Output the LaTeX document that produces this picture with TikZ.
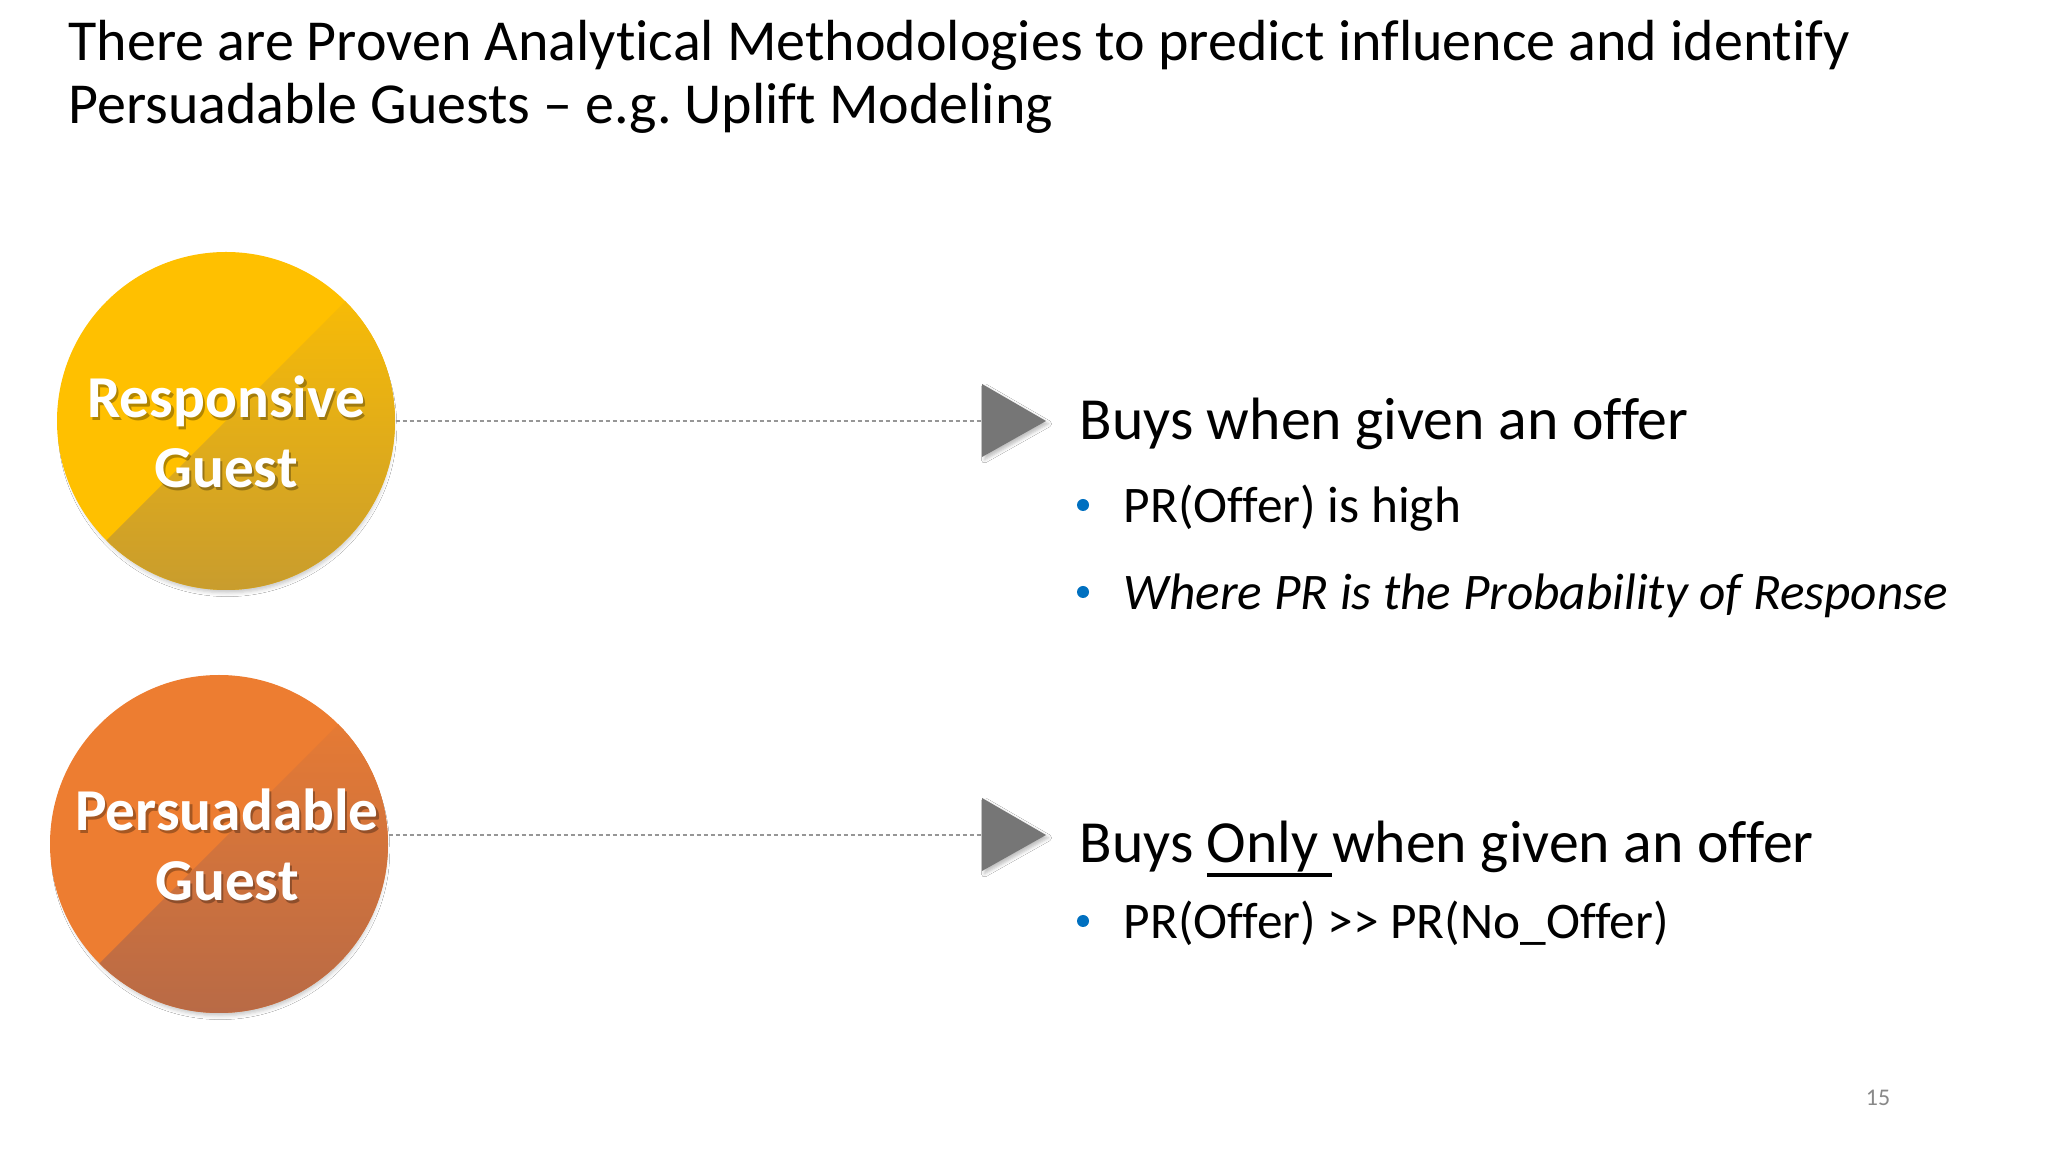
\documentclass[tikz,border=0pt]{standalone}
\usepackage{fontspec}
\setmainfont{Carlito}[Ligatures={TeX,NoCommon}]
\usetikzlibrary{shadows.blur}

\definecolor{gold}{RGB}{255,192,0}
\definecolor{goldbot}{RGB}{200,156,46}
\definecolor{orange}{RGB}{237,125,49}
\definecolor{orangebot}{RGB}{184,106,70}
\definecolor{arrowgray}{RGB}{118,118,118}
\definecolor{linkgray}{RGB}{150,150,150}
\definecolor{bulletblue}{RGB}{0,112,192}
\definecolor{pagegray}{RGB}{137,137,137}

% thick underline, as on the slide
\newcommand{\slideuline}[1]{\setbox0\hbox{#1}\rlap{\rule[-0.23em]{\wd0}{0.055em}}\box0}

\tikzset{
  guest/.style={circle, minimum size=33.8mm, inner sep=0pt, draw=none,
    blur shadow={shadow xshift=0.4pt, shadow yshift=-1.8pt, shadow scale=0.98,
      shadow blur radius=1.1pt, shadow opacity=22}},
  guestlabel/.style={text=white, align=center, inner sep=0pt,
    font=\fontsize{16.9}{19.9}\selectfont\bfseries},
  guestshade/.style={guestlabel, text=black, opacity=0.3},
  link/.style={draw=linkgray, line width=0.2mm, dash pattern=on 0.45mm off 0.25mm},
  pointer/.style={fill=arrowgray,
    blur shadow={shadow xshift=0.7pt, shadow yshift=-0.8pt, shadow blur radius=0.9pt, shadow opacity=25}},
  titletext/.style={anchor=base west, inner sep=0pt, font=\fontsize{16.5}{19}\selectfont},
  heading/.style={anchor=base west, inner sep=0pt, font=\fontsize{17}{20}\selectfont},
  item/.style={anchor=base west, inner sep=0pt, font=\fontsize{14.6}{17}\selectfont},
  dot/.style={circle, fill=bulletblue, minimum size=1.2mm, inner sep=0pt},
}

\begin{document}
\frenchspacing
\begin{tikzpicture}[x=0.1mm, y=-0.1mm]
  \useasboundingbox[fill=white] (0,0) rectangle (2048,1152);

  % Title
  \node[titletext] (title1) at (68,61) {There are Proven Analytical Methodologies to predict influence and identify};
  \node[titletext] (title2) at (68,124) {Persuadable Guests -- e.g. Uplift Modeling};

  % Guest circles
  \node[guest, fill=gold] (resp) at (226,421) {};
  \begin{scope}
    \clip (resp.center) circle (16.9mm);
    \shade[top color=gold, bottom color=goldbot, shift={(resp.center)}]
      (-172,172) -- (172,-172) -- (172,172) -- cycle;
  \end{scope}
  \node[guest, fill=orange] (pers) at (219,844) {};
  \begin{scope}
    \clip (pers.center) circle (16.9mm);
    \shade[top color=orange, bottom color=orangebot, shift={(pers.center)}]
      (-172,172) -- (172,-172) -- (172,172) -- cycle;
  \end{scope}

  % Circle labels
  \node[guestshade] (resplblsh) at (228.5,435) {Responsive\\Guest};
  \node[guestlabel] (resplbl) at (226,432) {Responsive\\Guest};
  \node[guestshade] (perslblsh) at (229.5,848) {Persuadable\\Guest};
  \node[guestlabel] (perslbl) at (227,845) {Persuadable\\Guest};

  % Pointers
  \fill[pointer] (982,384) -- (1046,421) -- (982,457) -- cycle;
  \coordinate (ptr1) at (982,421);
  \fill[pointer] (982,798) -- (1046,835) -- (982,871) -- cycle;
  \coordinate (ptr2) at (982,835);

  % Connect circles to pointers
  \draw[link] (resp) -- (ptr1);
  \draw[link] (pers.east |- ptr2) -- (ptr2);

  % Responsive text
  \node[heading] (head1) at (1079,440) {Buys when given an offer};
  \node[dot] (dot1) at (1083,505) {};
  \node[item] (item1) at (1123,523) {PR(Offer) is high};
  \node[dot] (dot2) at (1083,592) {};
  \node[item] (item2) at (1123,610) {\itshape Where PR is the Probability of Response};

  % Persuadable text
  \node[heading] (head2) at (1079,863) {Buys \slideuline{Only }when given an offer};
  \node[dot] (dot3) at (1083,921) {};
  \node[item] (item3) at (1123,939) {PR(Offer) >{}> PR(No\_Offer)};

  % Page number
  \node[text=pagegray, font=\fontsize{6.8}{8}\selectfont] (pnum) at (1878,1098) {15};
\end{tikzpicture}
\end{document}
